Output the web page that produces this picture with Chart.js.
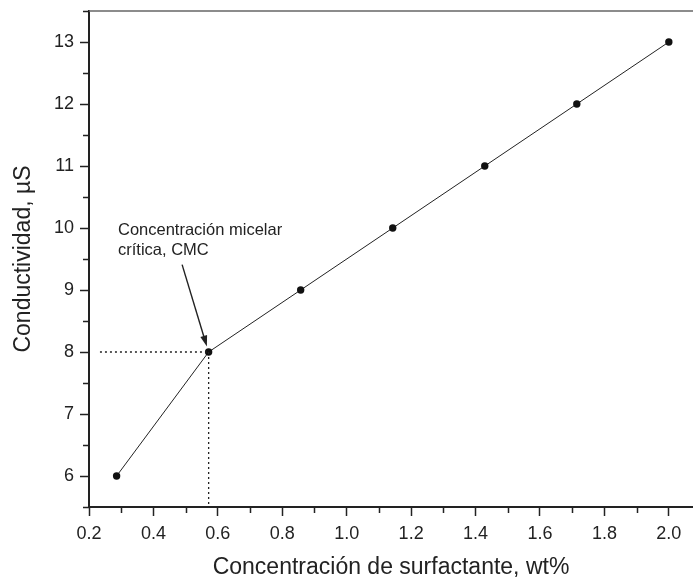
<!DOCTYPE html>
<html>
<head>
<meta charset="utf-8">
<script src="https://cdn.jsdelivr.net/npm/chart.js@4/dist/chart.umd.min.js"></script>
<style>
  html, body { margin: 0; padding: 0; background: #fff; }
  #wrap { width: 693px; height: 579px; }
</style>
</head>
<body>
<div id="wrap"><canvas id="chart"></canvas></div>
<script>
// ---- Data ----
const concentracion = [0.2857, 0.5714, 0.8571, 1.1429, 1.4286, 1.7143, 2.0];
const conductividad = [6, 8, 9, 10, 11, 12, 13];
const xTicks = [0.2, 0.4, 0.6, 0.8, 1.0, 1.2, 1.4, 1.6, 1.8, 2.0];
const yTicks = [6, 7, 8, 9, 10, 11, 12, 13];
const xMinorTicks = [0.3, 0.5, 0.7, 0.9, 1.1, 1.3, 1.5, 1.7, 1.9];
const yMinorTicks = [5.5, 6.5, 7.5, 8.5, 9.5, 10.5, 11.5, 12.5, 13.5];
const cmc = { x: 0.5714, y: 8 };
const noteLines = ['Concentración micelar', 'crítica, CMC'];

const ink = '#222';
const fontFamily = 'Arial, "Liberation Sans", sans-serif';

// draws minor ticks, top border, CMC guides and the annotation arrow
const extras = {
    id: 'extras',
    afterDraw: function (chart) {
        const ctx = chart.ctx;
        const xs = chart.scales.x;
        const ys = chart.scales.y;
        const area = chart.chartArea;
        ctx.save();

        // top frame line
        ctx.strokeStyle = '#666';
        ctx.lineWidth = 1.5;
        ctx.beginPath();
        ctx.moveTo(area.left, area.top);
        ctx.lineTo(area.right, area.top);
        ctx.stroke();

        // minor ticks
        ctx.strokeStyle = ink;
        ctx.lineWidth = 1.5;
        ctx.beginPath();
        xMinorTicks.forEach(v => {
            const px = Math.round(xs.getPixelForValue(v)) + 0.5;
            ctx.moveTo(px, area.bottom);
            ctx.lineTo(px, area.bottom + 6);
        });
        yMinorTicks.forEach(v => {
            const py = Math.round(ys.getPixelForValue(v)) + 0.5;
            ctx.moveTo(area.left, py);
            ctx.lineTo(area.left - 6, py);
        });
        ctx.stroke();

        // dotted guides at the CMC point
        const cx = xs.getPixelForValue(cmc.x);
        const cy = ys.getPixelForValue(cmc.y);
        ctx.setLineDash([2, 3]);
        ctx.lineWidth = 1.3;
        ctx.beginPath();
        ctx.moveTo(xs.getPixelForValue(0.234), cy);
        ctx.lineTo(cx, cy);
        ctx.moveTo(cx, cy);
        ctx.lineTo(cx, area.bottom);
        ctx.stroke();
        ctx.setLineDash([]);

        // annotation text
        ctx.fillStyle = ink;
        ctx.font = '16.5px ' + fontFamily;
        ctx.textBaseline = 'alphabetic';
        ctx.textAlign = 'left';
        const tx = xs.getPixelForValue(0.29);
        const ty = ys.getPixelForValue(9.895);
        noteLines.forEach((line, i) => ctx.fillText(line, tx, ty + i * 20));

        // arrow
        const ax0 = xs.getPixelForValue(0.489), ay0 = ys.getPixelForValue(9.41);
        const ax1 = xs.getPixelForValue(0.566), ay1 = ys.getPixelForValue(8.087);
        const ang = Math.atan2(ay1 - ay0, ax1 - ax0);
        ctx.lineWidth = 1.4;
        ctx.beginPath();
        ctx.moveTo(ax0, ay0);
        ctx.lineTo(ax1 - 8 * Math.cos(ang), ay1 - 8 * Math.sin(ang));
        ctx.stroke();
        ctx.beginPath();
        ctx.moveTo(ax1, ay1);
        ctx.lineTo(ax1 - 11 * Math.cos(ang) + 3.5 * Math.sin(ang), ay1 - 11 * Math.sin(ang) - 3.5 * Math.cos(ang));
        ctx.lineTo(ax1 - 11 * Math.cos(ang) - 3.5 * Math.sin(ang), ay1 - 11 * Math.sin(ang) + 3.5 * Math.cos(ang));
        ctx.closePath();
        ctx.fill();

        ctx.restore();
    }
};

const ctx = document.getElementById('chart').getContext('2d');
new Chart(ctx, {
    type: 'scatter',
    data: {
        datasets: [{
            data: concentracion.map((x, i) => ({ x: x, y: conductividad[i] })),
            showLine: true,
            borderColor: ink,
            borderWidth: 1,
            backgroundColor: '#111',
            pointBackgroundColor: '#111',
            pointBorderWidth: 0,
            pointRadius: 3.7
        }]
    },
    options: {
        responsive: true,
        maintainAspectRatio: false,
        animation: false,
        layout: { autoPadding: false, padding: { top: 11, right: 0, left: 0, bottom: 0 } },
        plugins: {
            legend: { display: false },
            tooltip: { enabled: false }
        },
        scales: {
            x: {
                type: 'linear',
                min: 0.2,
                max: 2.075,
                afterBuildTicks: scale => { scale.ticks = xTicks.map(v => ({ value: v })); },
                afterFit: scale => {
                    scale.height = 72;
                    scale.paddingLeft = 0;
                    scale.paddingRight = 0;
                },
                grid: { drawOnChartArea: false, drawTicks: true, tickLength: 9, tickWidth: 1.5, tickColor: ink },
                border: { display: true, color: ink, width: 2 },
                ticks: {
                    color: ink,
                    padding: 7,
                    maxRotation: 0,
                    font: { size: 18, family: fontFamily },
                    callback: v => v.toFixed(1)
                },
                title: {
                    display: true,
                    text: 'Concentración de surfactante, wt%',
                    color: ink,
                    font: { size: 23, family: fontFamily, lineHeight: 1 },
                    padding: { top: 0, bottom: 0 }
                }
            },
            y: {
                type: 'linear',
                min: 5.5,
                max: 13.5,
                afterBuildTicks: scale => { scale.ticks = yTicks.map(v => ({ value: v })); },
                afterFit: scale => {
                    scale.width = 89;
                    scale.paddingTop = 0;
                    scale.paddingBottom = 0;
                },
                grid: { drawOnChartArea: false, drawTicks: true, tickLength: 9, tickWidth: 1.5, tickColor: ink },
                border: { display: true, color: ink, width: 2 },
                ticks: {
                    color: ink,
                    padding: 6,
                    font: { size: 18, family: fontFamily }
                },
                title: {
                    display: true,
                    text: 'Conductividad, µS',
                    color: ink,
                    font: { size: 23, family: fontFamily, lineHeight: 1 },
                    padding: { top: 12, bottom: 0 }
                }
            }
        }
    },
    plugins: [extras]
});
</script>
</body>
</html>
